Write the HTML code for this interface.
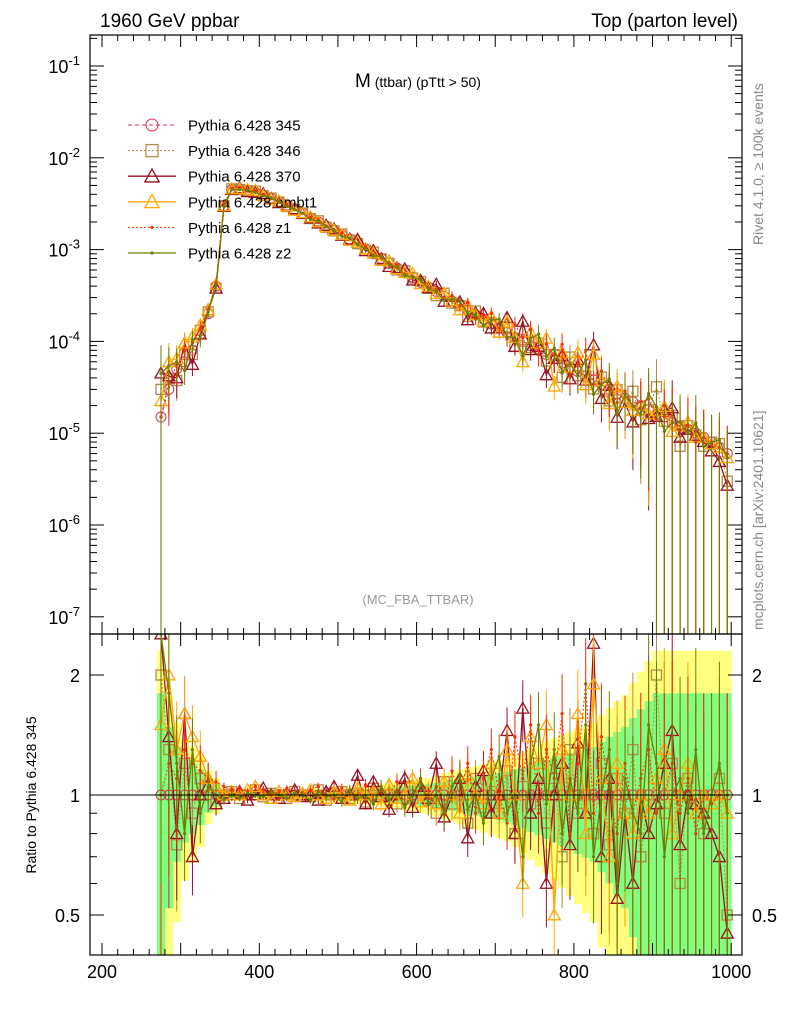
<!DOCTYPE html>
<html><head><meta charset="utf-8"><style>
html,body{margin:0;padding:0;background:#fff;width:786px;height:1024px;overflow:hidden;}
svg{display:block;font-family:"Liberation Sans",sans-serif;}
</style></head><body>
<svg id="c" width="786" height="1024" viewBox="0 0 786 1024">
<text x="100" y="27" font-size="19">1960 GeV ppbar</text>
<text x="738" y="27" font-size="19" text-anchor="end">Top (parton level)</text>
<text x="418" y="87" font-size="19" text-anchor="middle">M<tspan font-size="14"> (ttbar) (pTtt &gt; 50)</tspan></text>
<text x="418" y="604" font-size="13" fill="#999" text-anchor="middle">(MC_FBA_TTBAR)</text>
<text transform="translate(763,245) rotate(-90)" font-size="14" fill="#888">Rivet 4.1.0, ≥ 100k events</text>
<text transform="translate(763,630) rotate(-90)" font-size="14" fill="#888">mcplots.cern.ch [arXiv:2401.10621]</text>
<text transform="translate(36,795) rotate(-90)" font-size="14" text-anchor="middle">Ratio to Pythia 6.428 345</text>
<g id="g"></g>
</svg>
<script>
const centers=[];for(let v=275;v<=995;v+=10)centers.push(v);
const base=[1.5e-5,3e-5,5e-5,6e-5,8e-5,1.2e-4,2e-4,4e-4,3e-3,4.5e-3,4.6e-3,4.4e-3,4.2e-3,3.9e-3,3.6e-3,3.3e-3,3e-3,2.7e-3,2.5e-3,2.2e-3,2e-3,1.8e-3,1.6e-3,1.45e-3,1.3e-3,1.15e-3,1.02e-3,9e-4,8e-4,7.1e-4,6.3e-4,5.6e-4,5e-4,4.4e-4,3.9e-4,3.5e-4,3.1e-4,2.75e-4,2.45e-4,2.2e-4,1.95e-4,1.75e-4,1.55e-4,1.4e-4,1.25e-4,1.1e-4,1e-4,9e-5,8e-5,7.2e-5,6.5e-5,5.8e-5,5.2e-5,4.7e-5,4.2e-5,3.8e-5,3.4e-5,3e-5,2.7e-5,2.4e-5,2.2e-5,2e-5,1.8e-5,1.6e-5,1.5e-5,1.3e-5,1.2e-5,1.1e-5,1e-5,9e-6,8e-6,7e-6,6e-6];
const relErr=[1,0.6,0.4,0.3,0.25,0.2,0.12,0.08,0.03,0.025,0.02,0.02,0.02,0.02,0.02,0.02,0.022,0.024,0.025,0.026,0.028,0.03,0.032,0.034,0.036,0.04,0.042,0.045,0.05,0.055,0.06,0.065,0.07,0.075,0.08,0.09,0.1,0.11,0.12,0.13,0.14,0.15,0.16,0.17,0.18,0.2,0.22,0.24,0.26,0.28,0.3,0.32,0.34,0.36,0.38,0.4,0.45,0.5,0.55,0.6,0.7,0.8,0.9,1,1,1,1,1,1,1,1,1,1];
const r345=centers.map(()=>1);
const r346=[2.0,1.3,0.75,1.2,0.9,1.1,1.05,0.95,1.0,1.02,0.98,1.0,1.03,0.99,1.01,1.0,0.98,1.02,1.0,0.99,1.03,0.97,1.0,1.02,0.98,1.01,0.96,1.04,0.99,1.0,0.95,1.05,0.98,1.02,0.97,0.9,1.08,0.95,1.0,0.85,1.1,0.93,1.02,0.9,1.15,0.8,1.05,0.95,1.2,0.85,1.1,0.7,1.3,0.9,1.0,0.8,1.2,0.75,1.1,0.9,1.3,0.7,1.0,2.0,0.9,1.2,0.6,1.1,0.95,0.8,1.0,1.1,0.5];
const r370=[3.0,1.4,0.8,1.6,0.7,1.0,1.1,0.95,0.98,1.0,1.02,0.97,1.0,1.04,1.0,0.98,1.01,1.03,0.99,1.0,0.97,1.02,1.05,0.98,1.0,1.12,0.95,1.08,0.99,0.92,1.0,1.1,0.93,1.05,0.98,1.2,0.88,1.0,1.1,0.78,1.05,1.15,0.9,1.0,1.45,0.8,1.65,0.9,1.1,0.6,1.0,1.2,0.75,1.35,0.9,2.4,0.7,1.1,0.55,0.9,0.6,1.0,0.8,0.95,1.2,1.45,0.75,1.0,0.95,0.9,0.8,0.7,0.45];
const rAmbt1=[1.5,2.0,1.3,1.6,1.4,1.25,1.1,1.05,1.0,1.02,1.0,1.03,1.05,1.0,0.98,1.02,1.0,0.99,1.01,1.03,1.0,0.98,1.02,1.0,0.97,1.04,1.0,1.02,0.95,1.06,0.98,1.0,1.1,0.96,1.02,0.95,1.08,1.0,0.9,1.12,1.0,0.95,1.2,0.9,1.3,1.0,0.6,1.4,1.2,1.5,0.5,1.3,1.0,1.6,0.8,1.9,1.1,0.7,1.2,0.9,0.8,1.0,0.9,1.1,1.3,0.8,1.0,1.2,0.9,1.0,0.95,1.0,0.9];
const rZ1=[1.0,1.2,1.1,1.3,1.2,1.15,1.1,1.08,1.05,1.03,1.04,1.02,1.05,1.03,1.0,1.02,1.04,1.01,1.0,1.03,1.05,1.0,0.98,1.04,1.02,1.0,1.06,0.97,1.03,1.0,1.08,0.95,1.0,1.1,0.98,1.05,0.92,1.15,1.0,1.2,0.9,1.1,1.3,1.0,0.85,1.4,1.1,1.5,0.9,1.3,1.1,1.6,0.8,1.2,1.9,0.9,1.4,1.0,0.8,1.2,0.9,1.1,1.3,0.9,1.0,1.2,0.9,1.1,0.8,1.0,0.95,1.0,1.0];
const rZ2=[3.0,1.8,1.2,0.8,1.3,0.9,1.05,1.0,0.97,1.0,0.98,1.01,1.0,0.99,1.02,1.0,0.98,1.01,1.0,0.97,1.02,0.99,1.0,0.96,1.03,0.98,1.0,0.95,1.05,0.97,1.02,0.93,1.0,1.08,0.95,1.0,0.9,1.05,1.12,0.92,1.0,0.85,1.1,1.25,0.9,1.0,0.7,1.2,1.5,0.95,1.3,0.8,1.1,0.9,1.5,0.7,1.0,1.3,0.6,1.1,0.9,0.8,1.5,1.2,0.7,1.0,1.1,0.9,1.3,0.8,1.0,1.2,0.9];
const xTicks=[200,400,600,800,1000];
const yExps=[-1,-2,-3,-4,-5,-6,-7];
const rTicks=[0.5,1,2];

const L=90,R=742,T=35,M=634,B=955;
const cl=(v,a,b)=>Math.min(b,Math.max(a,v));
const X=v=>102+(v-200)*0.7865;
const Y=v=>66+(-1-Math.log10(v))*91.8;
const YC=v=>cl(Y(v),T,M);
const RY=v=>795-Math.log2(v)*120;
const RYC=v=>cl(RY(v),M,B);
const NS='http://www.w3.org/2000/svg';
const g=document.getElementById('g');
function mk(tag,at,parent){const e=document.createElementNS(NS,tag);for(const k in at)e.setAttribute(k,at[k]);(parent||g).appendChild(e);return e;}

const defs=mk('defs',{});
const c1=mk('clipPath',{id:'cm'},defs);mk('rect',{x:L,y:T,width:R-L,height:M-T},c1);
const c2=mk('clipPath',{id:'cr'},defs);mk('rect',{x:L,y:M,width:R-L,height:B-M},c2);

const bands=mk('g',{'clip-path':'url(#cr)'});


[[1.3,'#ffff80'],[0.8,'#80ff80']].forEach(([f,col])=>{
  centers.forEach((c,i)=>{
    const e=relErr[i]*f;
    const y1=RYC(1+e),y2=RYC(Math.max(1-e,0.01));
    const r=mk('rect',{x:X(c-5),width:X(c+5)-X(c-5)+0.3,y:y1,height:Math.max(0,y2-y1),fill:col},bands);
    
    
  });
});

const series=[
 {name:'Pythia 6.428 345',r:r345,col:'#d6304d',dash:'4,3',mk:'circle',sw:1},
 {name:'Pythia 6.428 346',r:r346,col:'#b48a48',dash:'2,2',mk:'square',sw:1},
 {name:'Pythia 6.428 370',r:r370,col:'#9b1024',dash:'',mk:'tri',sw:1.3},
 {name:'Pythia 6.428 ambt1',r:rAmbt1,col:'#ffa800',dash:'',mk:'tri',sw:1.3},
 {name:'Pythia 6.428 z1',r:rZ1,col:'#ff2a00',dash:'2,2',mk:'dot',sw:1},
 {name:'Pythia 6.428 z2',r:rZ2,col:'#6f7f00',dash:'',mk:'dot',sw:1.3}
];
function marker(s,x,y,parent,big){
  const z=big?1.2:1;let e;
  if(s.mk==='circle')e=mk('circle',{cx:x,cy:y,r:5*z,fill:'none',stroke:s.col,'stroke-width':1},parent);
  else if(s.mk==='square')e=mk('rect',{x:x-5*z,y:y-5*z,width:10*z,height:10*z,fill:'none',stroke:s.col,'stroke-width':1.3},parent);
  else if(s.mk==='tri'){const h=6*z;e=mk('polygon',{points:`${x},${y-h} ${x-h},${y+h*0.8} ${x+h},${y+h*0.8}`,fill:'none',stroke:s.col,'stroke-width':1.3},parent);}
  else e=mk('circle',{cx:x,cy:y,r:1.6,fill:s.col},parent);
  return e;
}
series.forEach((s,si)=>{
  const gm=mk('g',{'clip-path':'url(#cm)'});
  
  
  const gr=mk('g',{'clip-path':'url(#cr)'});
  
  
  const n=Math.min(centers.length,s.r.length,base.length);
  let pm=[],pr=[];
  for(let i=0;i<n;i++){
    const v=base[i]*s.r[i],e=v*relErr[i],x=X(centers[i]);
    pm.push(x+','+YC(v));
    const ln=mk('line',{x1:x,x2:x,y1:YC(v+e),y2:YC(Math.max(v-e,1e-9)),stroke:s.col,'stroke-width':1},gm);
    
    
    pr.push(x+','+RYC(s.r[i]));
    const er=s.r[i]*relErr[i]*0.8;
    const ln2=mk('line',{x1:x,x2:x,y1:RYC(s.r[i]+er),y2:RYC(Math.max(s.r[i]-er,0.01)),stroke:s.col,'stroke-width':1},gr);
    
    
  }
  const a=mk('polyline',{points:pm.join(' '),fill:'none',stroke:s.col,'stroke-width':s.sw,'stroke-dasharray':s.dash},gm);
  
  
  const b=mk('polyline',{points:pr.join(' '),fill:'none',stroke:s.col,'stroke-width':s.sw,'stroke-dasharray':s.dash},gr);
  
  
  for(let i=0;i<n;i++){
    const v=base[i]*s.r[i],x=X(centers[i]);
    const m1=marker(s,x,YC(v),gm);
    
    
    const m2=marker(s,x,RYC(s.r[i]),gr);
    
    
  }
  const ly=125+si*25.6;
  const lg=mk('g',{});
  
  
  mk('line',{x1:128,x2:176,y1:ly,y2:ly,stroke:s.col,'stroke-width':s.sw,'stroke-dasharray':s.dash},lg);
  marker(s,152,ly,lg,true);
  const t=mk('text',{x:188,y:ly+5.5,'font-size':15},lg);t.textContent=s.name;
});

const one=mk('line',{x1:L,x2:R,y1:RY(1),y2:RY(1),stroke:'#000','stroke-width':1});



const f1=mk('rect',{x:L,y:T,width:R-L,height:M-T,fill:'none',stroke:'#000','stroke-width':1.2});


const f2=mk('rect',{x:L,y:M,width:R-L,height:B-M,fill:'none',stroke:'#000','stroke-width':1.2});



for(let v=200;v<=1000;v+=20){
  const x=X(v);if(x<L||x>R)continue;const big=v%100===0?12:6;
  [[T,1],[M,-1],[M,1],[B,-1]].forEach(([y0,d])=>{
    const t=mk('line',{x1:x,x2:x,y1:y0,y2:y0+d*big,stroke:'#000','stroke-width':1});
    
    
  });
}
xTicks.forEach(v=>{
  const t=mk('text',{x:X(v),y:978,'font-size':18,'text-anchor':'middle'});t.textContent=v;
  
  
});
yExps.forEach(ex=>{
  for(let k=1;k<=9;k++){
    const v=k*Math.pow(10,ex);const y=Y(v);if(y<T||y>M)continue;const len=k===1?14:7;
    [[L,1],[R,-1]].forEach(([x0,d])=>{
      const t=mk('line',{x1:x0,x2:x0+d*len,y1:y,y2:y,stroke:'#000','stroke-width':1});
      
      
    });
  }
  const t=mk('text',{x:80,y:Y(Math.pow(10,ex))+7,'font-size':18,'text-anchor':'end'});
  t.innerHTML='10<tspan dy="-8" font-size="13">'+ex+'</tspan>';
  
  
});
[0.5,0.6,0.7,0.8,0.9,1,2].forEach(v=>{
  const y=RY(v);const len=(v===0.5||v===1||v===2)?14:7;
  [[L,1],[R,-1]].forEach(([x0,d])=>{
    const t=mk('line',{x1:x0,x2:x0+d*len,y1:y,y2:y,stroke:'#000','stroke-width':1});
    
    
  });
});
rTicks.forEach(v=>{
  [[80,'end'],[752,'start']].forEach(([x,a])=>{
    const t=mk('text',{x:x,y:RY(v)+7,'font-size':18,'text-anchor':a});t.textContent=v;
    
    
  });
});
</script>
</body></html>
